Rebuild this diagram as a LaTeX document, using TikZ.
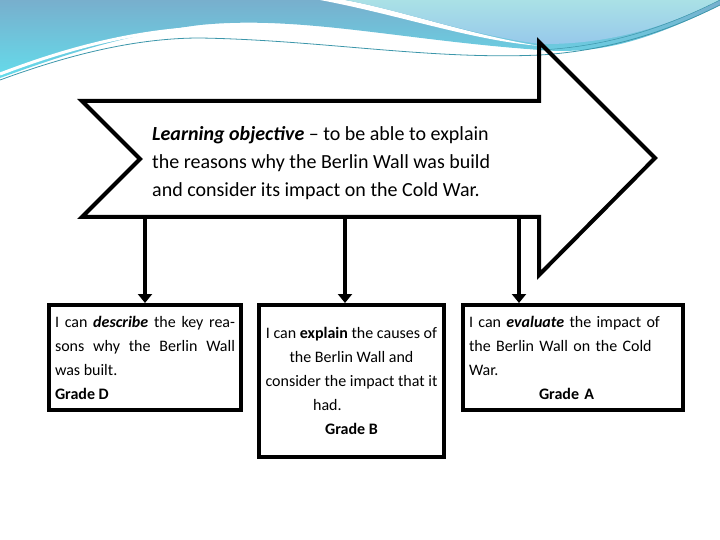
\documentclass[tikz,border=0pt]{standalone}
\usepackage{fontspec}
\setmainfont{Carlito}
\usetikzlibrary{arrows.meta}
\definecolor{swA}{RGB}{120,175,205}
\definecolor{swB}{RGB}{100,220,235}
\definecolor{swC}{RGB}{170,225,230}
\definecolor{swD}{RGB}{150,200,235}
\definecolor{swL}{RGB}{60,150,170}
\begin{document}
\begin{tikzpicture}[x=1pt,y=-1pt,
  frame/.style={draw=black,line width=4pt,line join=miter},
  gbox/.style={draw=black,line width=4pt,anchor=north west,inner sep=6pt,font=\fontsize{16}{24}\selectfont,align=justify},
  con/.style={line width=4pt,-{Triangle[length=9pt,width=14pt]}}]
\useasboundingbox (0,0) rectangle (720,540);
% top swoosh
\shade[top color=swA,bottom color=swB]
  (0,0) -- (720,0) -- (720,5) .. controls (650,40) and (600,55) .. (540,50)
  .. controls (400,40) and (300,15) .. (200,25) .. controls (120,35) and (50,60) .. (0,78) -- cycle;
\fill[white] (320,0) .. controls (400,15) and (470,40) .. (540,46) .. controls (470,35) and (400,10) .. (345,0) -- cycle;
\shade[top color=swC,bottom color=swD]
  (345,0) .. controls (400,10) and (470,35) .. (540,44) .. controls (620,45) and (680,20) .. (720,0) -- cycle;
\draw[white,line width=3pt] (0,74) .. controls (50,55) and (120,32) .. (200,28) .. controls (300,25) and (400,42) .. (540,52);
\draw[swL,line width=0.8pt] (0,80) .. controls (60,58) and (130,38) .. (200,38) .. controls (320,40) and (430,60) .. (540,55) .. controls (620,50) and (680,25) .. (720,5);
\draw[swL,line width=0.5pt] (540,50) .. controls (620,46) and (680,20) .. (720,0);
% big arrow
\draw[frame] (82,101) -- (539,101) -- (539,42) -- (655,158) -- (539,275) -- (539,217) -- (82,217) -- (140,159) -- cycle;
\node[anchor=north west,align=left,inner sep=0pt,font=\fontsize{20}{28}\selectfont] (obj) at (152,126)
  {\textbf{\textit{Learning objective}} -- to be able to explain\\the reasons why the Berlin Wall was build\\and consider its impact on the Cold War.};
\coordinate (s1) at (145,217);
\coordinate (s2) at (345,217);
\coordinate (s3) at (519,217);
% boxes
\node[gbox,text width=180pt,minimum height=105pt] (b1) at (47,303)
  {I can \textbf{\textit{describe}} the key reasons why the Berlin Wall was built.\\\centering\textbf{Grade D}};
\node[gbox,text width=173pt,minimum height=152pt] (b2) at (257,303)
  {I can \textbf{explain} the causes of the Berlin Wall and consider the impact that it had.\\\centering\textbf{Grade B}\par};
\node[gbox,text width=208pt,minimum height=105pt,align=left] (b3) at (461,303)
  {I can \textbf{\textit{evaluate}} the impact of the Berlin Wall on the Cold War.\\\hspace*{70pt}\textbf{Grade A}};
\draw[con] (s1) -- (s1 |- b1.north);
\draw[con] (s2) -- (s2 |- b2.north);
\draw[con] (s3) -- (s3 |- b3.north);
\end{tikzpicture}
\end{document}
